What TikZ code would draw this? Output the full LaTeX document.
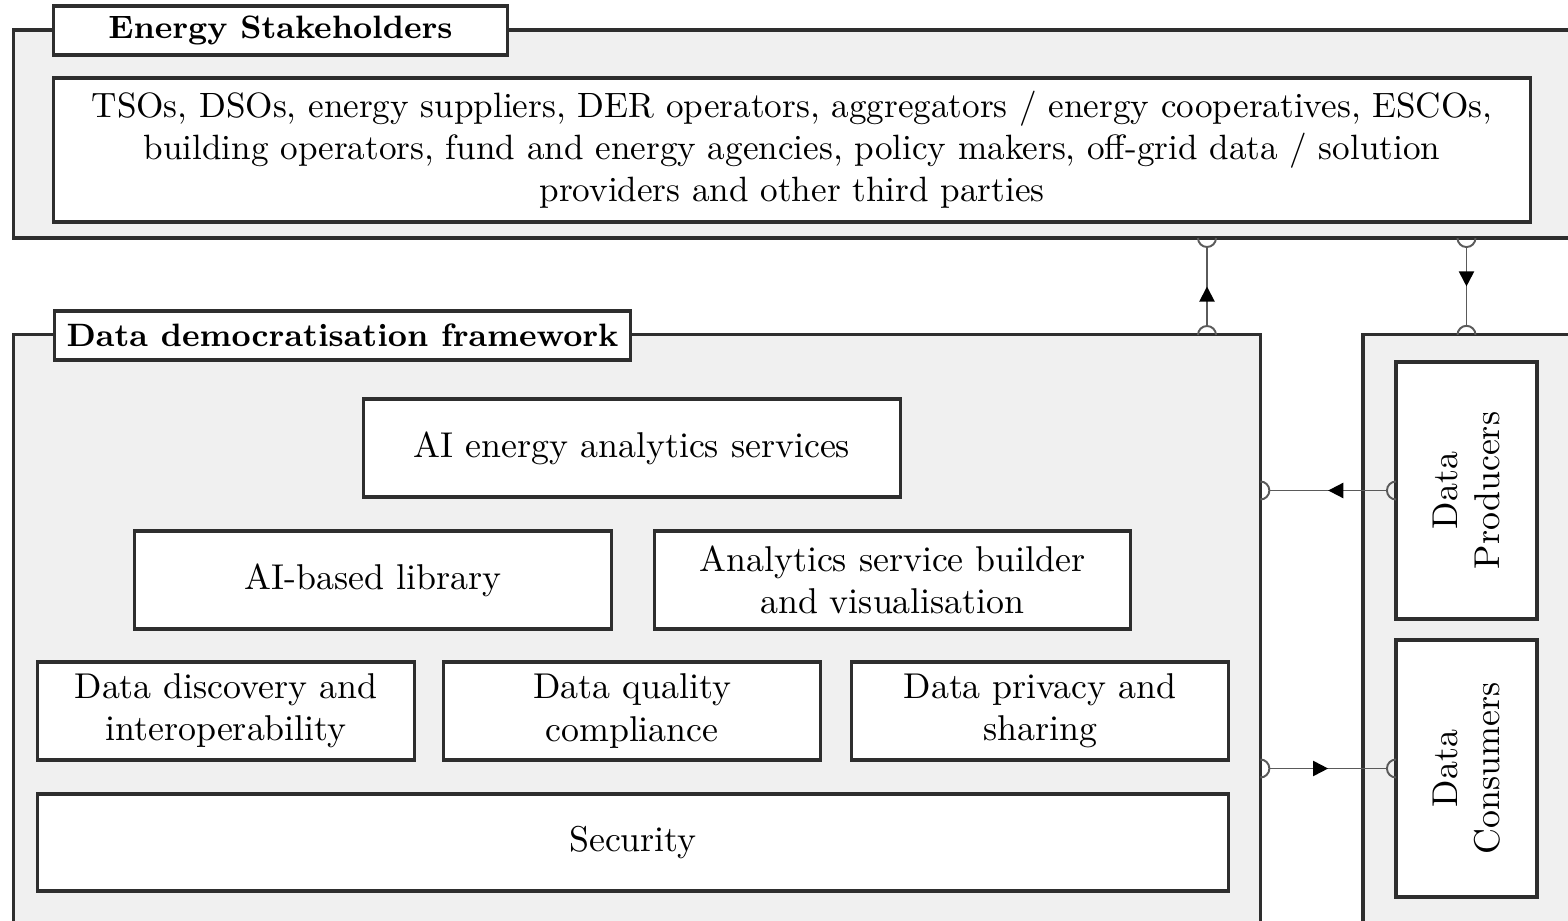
\documentclass[tikz,border=0pt]{standalone}
\usetikzlibrary{arrows.meta,decorations.markings,calc}
\definecolor{panelgray}{HTML}{F0F0F0}
\definecolor{edgegray}{HTML}{2E2E2E}
\definecolor{conngray}{HTML}{5A5A5A}
\tikzset{
  outerbox/.style={draw=edgegray, line width=0.9pt, fill=panelgray, inner sep=0pt, outer sep=0pt, anchor=center},
  titlebox/.style={draw=edgegray, line width=0.9pt, fill=white, inner sep=0pt, outer sep=0pt, minimum height=0.49cm, font=\fontsize{9.2pt}{11pt}\selectfont\bfseries},
  stepbox/.style={draw=edgegray, line width=0.9pt, fill=white, inner sep=0pt, outer sep=0pt, align=center, font=\fontsize{10.2pt}{12pt}\selectfont},
  vlabel/.style={inner sep=0pt, outer sep=0pt, align=center, rotate=90, font=\fontsize{10.2pt}{12pt}\selectfont},
  conn/.style={draw=conngray, line width=0.55pt},
  midarrow/.style={postaction={decorate}, decoration={markings, mark=at position 0.5 with {\arrow[black]{Triangle[length=4.3pt,width=4.3pt]}}}},
  sock/.pic={\draw[conn] (-9,0) arc[start angle=180, end angle=0, radius=0.09cm];}
}
\begin{document}
\begin{tikzpicture}[x=0.01cm, y=-0.01cm]
\clip (0,0) rectangle (1568,921);
\fill[white] (0,0) rectangle (1568,921);

% Energy stakeholders panel
\node[outerbox, minimum width=15.86cm, minimum height=2.08cm] (es) at (807,134) {};
\node[titlebox, minimum width=4.53cm] (estitle) at (280.5,30.5) {Energy Stakeholders};
\node[stepbox, minimum width=14.76cm, minimum height=1.44cm, font=\fontsize{10pt}{12pt}\selectfont] (esin) at (792,150)
  {TSOs, DSOs, energy suppliers, DER operators, aggregators / energy cooperatives, ESCOs,\\
   building operators, fund and energy agencies, policy makers, off-grid data / solution\\
   providers and other third parties};

% Data democratisation framework panel
\node[outerbox, minimum width=12.46cm, minimum height=6.25cm] (ddf) at (637,647.5) {};
\node[titlebox, minimum width=5.75cm] (ddftitle) at (342.5,335.5) {Data democratisation framework};
\node[stepbox, minimum width=5.36cm, minimum height=0.98cm] (ai) at (632,448) {AI energy analytics services};
\node[stepbox, minimum width=4.76cm, minimum height=0.98cm] (lib) at (373,580) {AI-based library};
\node[stepbox, minimum width=4.75cm, minimum height=0.98cm] (asb) at (892.5,580) {Analytics service builder\\and visualisation};
\node[stepbox, minimum width=3.76cm, minimum height=0.98cm] (dd) at (226,711) {Data discovery and\\interoperability};
\node[stepbox, minimum width=3.76cm, minimum height=0.98cm] (dq) at (632,711) {Data quality\\compliance};
\node[stepbox, minimum width=3.76cm, minimum height=0.98cm] (dp) at (1040,711) {Data privacy and\\sharing};
\node[stepbox, minimum width=11.90cm, minimum height=0.97cm] (sec) at (633,842.5) {Security};

% Right panel
\node[outerbox, minimum width=2.37cm, minimum height=6.25cm] (rp) at (1481.5,647.5) {};
\node[stepbox, minimum width=1.41cm, minimum height=2.57cm] (prod) at (1466.5,490.5) {};
\node[vlabel] (prodlbl) at (prod.center) {Data\\Producers};
\node[stepbox, minimum width=1.41cm, minimum height=2.57cm] (cons) at (1466.5,768.5) {};
\node[vlabel] (conslbl) at (cons.center) {Data\\Consumers};

% connector end points
\coordinate (upTop) at (1207,238);
\coordinate (upBot) at (1207,335);
\coordinate (dnTop) at (es.south -| prod.north);
\coordinate (dnBot) at (rp.north -| prod.north);
\coordinate (pL) at (ddf.east |- prod.west);
\coordinate (cL) at (ddf.east |- cons.west);

% connectors
\draw[conn, midarrow, shorten <=0.09cm, shorten >=0.09cm] (upBot) -- (upTop);
\pic[rotate=180] at (upTop) {sock};
\pic at (upBot) {sock};

\draw[conn, midarrow, shorten <=0.09cm, shorten >=0.09cm] (dnTop) -- (dnBot);
\pic[rotate=180] at (dnTop) {sock};
\pic at (dnBot) {sock};

\draw[conn, midarrow, shorten <=0.09cm, shorten >=0.09cm] (prod.west) -- (pL);
\pic[rotate=-90] at (pL) {sock};
\pic[rotate=90] at (prod.west) {sock};

\draw[conn, midarrow, shorten <=0.09cm, shorten >=0.09cm] (cL) -- (cons.west);
\pic[rotate=-90] at (cL) {sock};
\pic[rotate=90] at (cons.west) {sock};
\end{tikzpicture}
\end{document}
